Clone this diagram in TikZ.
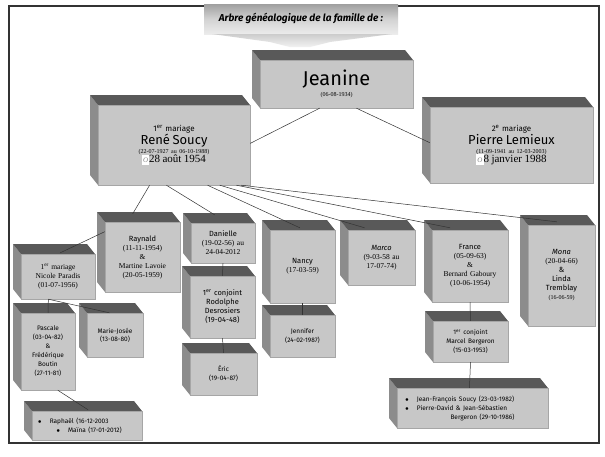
\documentclass[tikz,border=0pt]{standalone}
\usepackage{fontspec}
\setmainfont{Liberation Serif}
\newfontfamily\nm{Fira Sans}
\usetikzlibrary{calc}
\definecolor{frontc}{gray}{0.78}
\definecolor{topc}{gray}{0.35}
\definecolor{leftc}{gray}{0.55}
\tikzset{
 frontbox/.style={fill=frontc,draw=gray!70,inner sep=1pt,align=center,font=\fontsize{7.5}{9}\selectfont},
 link/.style={draw=black!80,line width=0.5pt},
 rings/.style={}}
\newcommand\famBox[6]{%
 \fill[leftc] (#2,#3)--(#2-8,#3-10)--(#2-8,#5-10)--(#2,#5)--cycle;
 \fill[topc] (#2,#3)--(#2-8,#3-10)--(#4-8,#3-10)--(#4,#3)--cycle;
 \node[frontbox,minimum width={(#4-#2)*1pt},minimum height={(#5-#3)*1pt},text width={(#4-#2-4)*1pt}] (#1) at ({(#2+#4)/2},{(#3+#5)/2}) {#6};}
\newcommand\ringic{\colorbox{white}{\kern-2pt\scriptsize\itshape\color{gray}O\kern-2pt}}
\begin{document}
\begin{tikzpicture}[x=1pt,y=-1pt]
\useasboundingbox (0,0) rectangle (605,456);
\fill[white] (0,0) rectangle (605,456);
\draw[line width=1.2pt,black!80] (9,6) rectangle (599,443);
% title banner
\shade[top color=gray!75,bottom color=gray!15,middle color=gray!35] (204,4) rectangle (398,34);
\shade[top color=gray!40,bottom color=gray!10] (212,34)--(392,34)--(330,42)--(310,47)--(290,47)--(270,42)--cycle;
\node[font=\nm\bfseries\itshape\fontsize{10}{12}\selectfont] (title) at (301,18) {Arbre généalogique de la famille de :};
% boxes
\famBox{jeanine}{260}{60}{413}{108}{{\nm\fontsize{20}{22}\selectfont Jeanine}\\[2pt]{\fontsize{6}{7}\selectfont (06-08-1934)}}
\famBox{rene}{98}{105}{250}{185}{{\nm\fontsize{8}{9}\selectfont 1\textsuperscript{er} mariage}\\{\nm\fontsize{13}{15}\selectfont René Soucy}\\{\fontsize{6}{7}\selectfont (22-07-1927 au 06-10-1988)}\\{\fontsize{11}{12}\selectfont\ringic28 août 1954}}
\famBox{pierre}{430}{107}{593}{183}{{\nm\fontsize{8}{9}\selectfont 2\textsuperscript{e} mariage}\\{\nm\fontsize{13}{15}\selectfont Pierre Lemieux}\\{\fontsize{6}{7}\selectfont (11-09-1941 au 12-03-2003)}\\{\fontsize{11}{12}\selectfont\ringic8 janvier 1988}}
\famBox{raynald}{105}{222}{180}{292}{{\nm Raynald}\\(11-11-1954)\\\&\\Martine Lavoie\\(20-05-1959)}
\famBox{nicole}{21}{254}{95}{299}{1\textsuperscript{er} mariage\\Nicole Paradis\\(01-07-1956)}
\famBox{danielle}{191}{223}{255}{263}{{\nm Danielle}\\(19-02-56) au 24-04-2012}
\famBox{rodolphe}{190}{276}{255}{338}{\nm 1\textsuperscript{er} conjoint\\Rodolphe\\Desrosiers\\(19-04-48)}
\famBox{eric}{190}{353}{257}{395}{\nm\fontsize{6.5}{8}\selectfont Éric\\(19-04-87)}
\famBox{pascale}{21}{313}{75}{390}{\nm\fontsize{6.5}{9}\selectfont Pascale\\(03-04-82)\\\&\\Frédérique\\Boutin\\(27-11-81)}
\famBox{marie}{87}{313}{143}{357}{\nm\fontsize{6.5}{8}\selectfont Marie-Josée\\(13-08-80)\\[10pt]}
\famBox{raphael}{32}{411}{142}{440}{\nm\fontsize{6.5}{8}\selectfont\raggedright\hspace*{4pt}$\bullet$\hspace{8pt}Raphaël (16-12-2003\\\hspace*{4pt}$\bullet$\hspace{8pt}Maïna (17-01-2012)}
\famBox{nancy}{270}{230}{335}{303}{{\nm Nancy}\\(17-03-59)\\[34pt]}
\famBox{jennifer}{270}{315}{335}{357}{\nm\fontsize{6.5}{8}\selectfont Jennifer\\(24-02-1987)}
\famBox{marco}{348}{230}{415}{285}{{\nm\itshape Marco}\\(9-03-58 au\\17-07-74)\\[12pt]}
\famBox{france}{432}{230}{508}{302}{{\nm France}\\(05-09-63)\\\&\\Bernard Gaboury\\(10-06-1954)}
\famBox{marcel}{433}{321}{508}{362}{\nm\fontsize{6.5}{9}\selectfont 1\textsuperscript{er} conjoint\\Marcel Bergeron\\(15-03-1953)}
\famBox{jf}{397}{388}{548}{428}{\nm\fontsize{6.5}{9}\selectfont\raggedright\hspace*{6pt}$\bullet$\hspace{8pt}Jean-François Soucy (23-03-1982)\\\hspace*{6pt}$\bullet$\hspace{8pt}Pierre-David \& Jean-Sébastien\\\hspace*{20pt}Bergeron (29-10-1986)}
\famBox{mona}{528}{225}{595}{326}{{\nm\itshape Mona}\\(20-04-66)\\{\nm\&}\\{\nm Linda}\\{\nm Tremblay}\\{\fontsize{6}{7}\selectfont(16-06-59)}\\[18pt]}
% connectors
\draw[link] ($(jeanine.south west)!0.39!(jeanine.south east)$) -- ($(rene.north east)!0.48!(rene.south east)$);
\draw[link] ($(jeanine.south west)!0.63!(jeanine.south east)$) -- ($(pierre.north west)!0.47!(pierre.south west)$);
\draw[link] ($(rene.south west)!0.34!(rene.south east)$) -- ([yshift=8pt]$(raynald.north west)!0.37!(raynald.north east)$);
\draw[link] ($(rene.south west)!0.45!(rene.south east)$) -- ([yshift=8pt]$(danielle.north west)!0.37!(danielle.north east)$);
\draw[link] ($(rene.south west)!0.72!(rene.south east)$) -- ([yshift=2pt]$(nancy.north west)!0.46!(nancy.north east)$);
\draw[link] ($(rene.south west)!0.80!(rene.south east)$) -- ([yshift=2pt]$(marco.north west)!0.25!(marco.north east)$);
\draw[link] ($(rene.south west)!0.91!(rene.south east)$) -- ([yshift=2pt]$(france.north west)!0.24!(france.north east)$);
\draw[link] ($(rene.south west)!0.94!(rene.south east)$) -- ([yshift=3pt]$(mona.north west)!0.43!(mona.north east)$);
\draw[link] ($(raynald.north west)!0.14!(raynald.south west)$) -- ([yshift=1pt]$(nicole.north west)!0.53!(nicole.north east)$);
\draw[link] ($(nicole.south west)!0.37!(nicole.south east)$) -- ($(pascale.north west)!0.5!(pascale.north east)$);
\draw[link] ($(nicole.south west)!0.37!(nicole.south east)$) -- ($(marie.north west)!0.4!(marie.north east)$);
\draw[link] ($(pascale.south west)!0.68!(pascale.south east)$) -- ([yshift=1pt]$(raphael.north west)!0.51!(raphael.north east)$);
\draw[link] (danielle.south) -- (rodolphe.north);
\draw[link] (rodolphe.south) -- (eric.north);
\draw[link] (nancy.south) -- (jennifer.north);
\draw[link] (france.south) -- (marcel.north);
\draw[link] (marcel.south) -- ($(jf.north west)!0.48!(jf.north east)$);
\end{tikzpicture}
\end{document}
